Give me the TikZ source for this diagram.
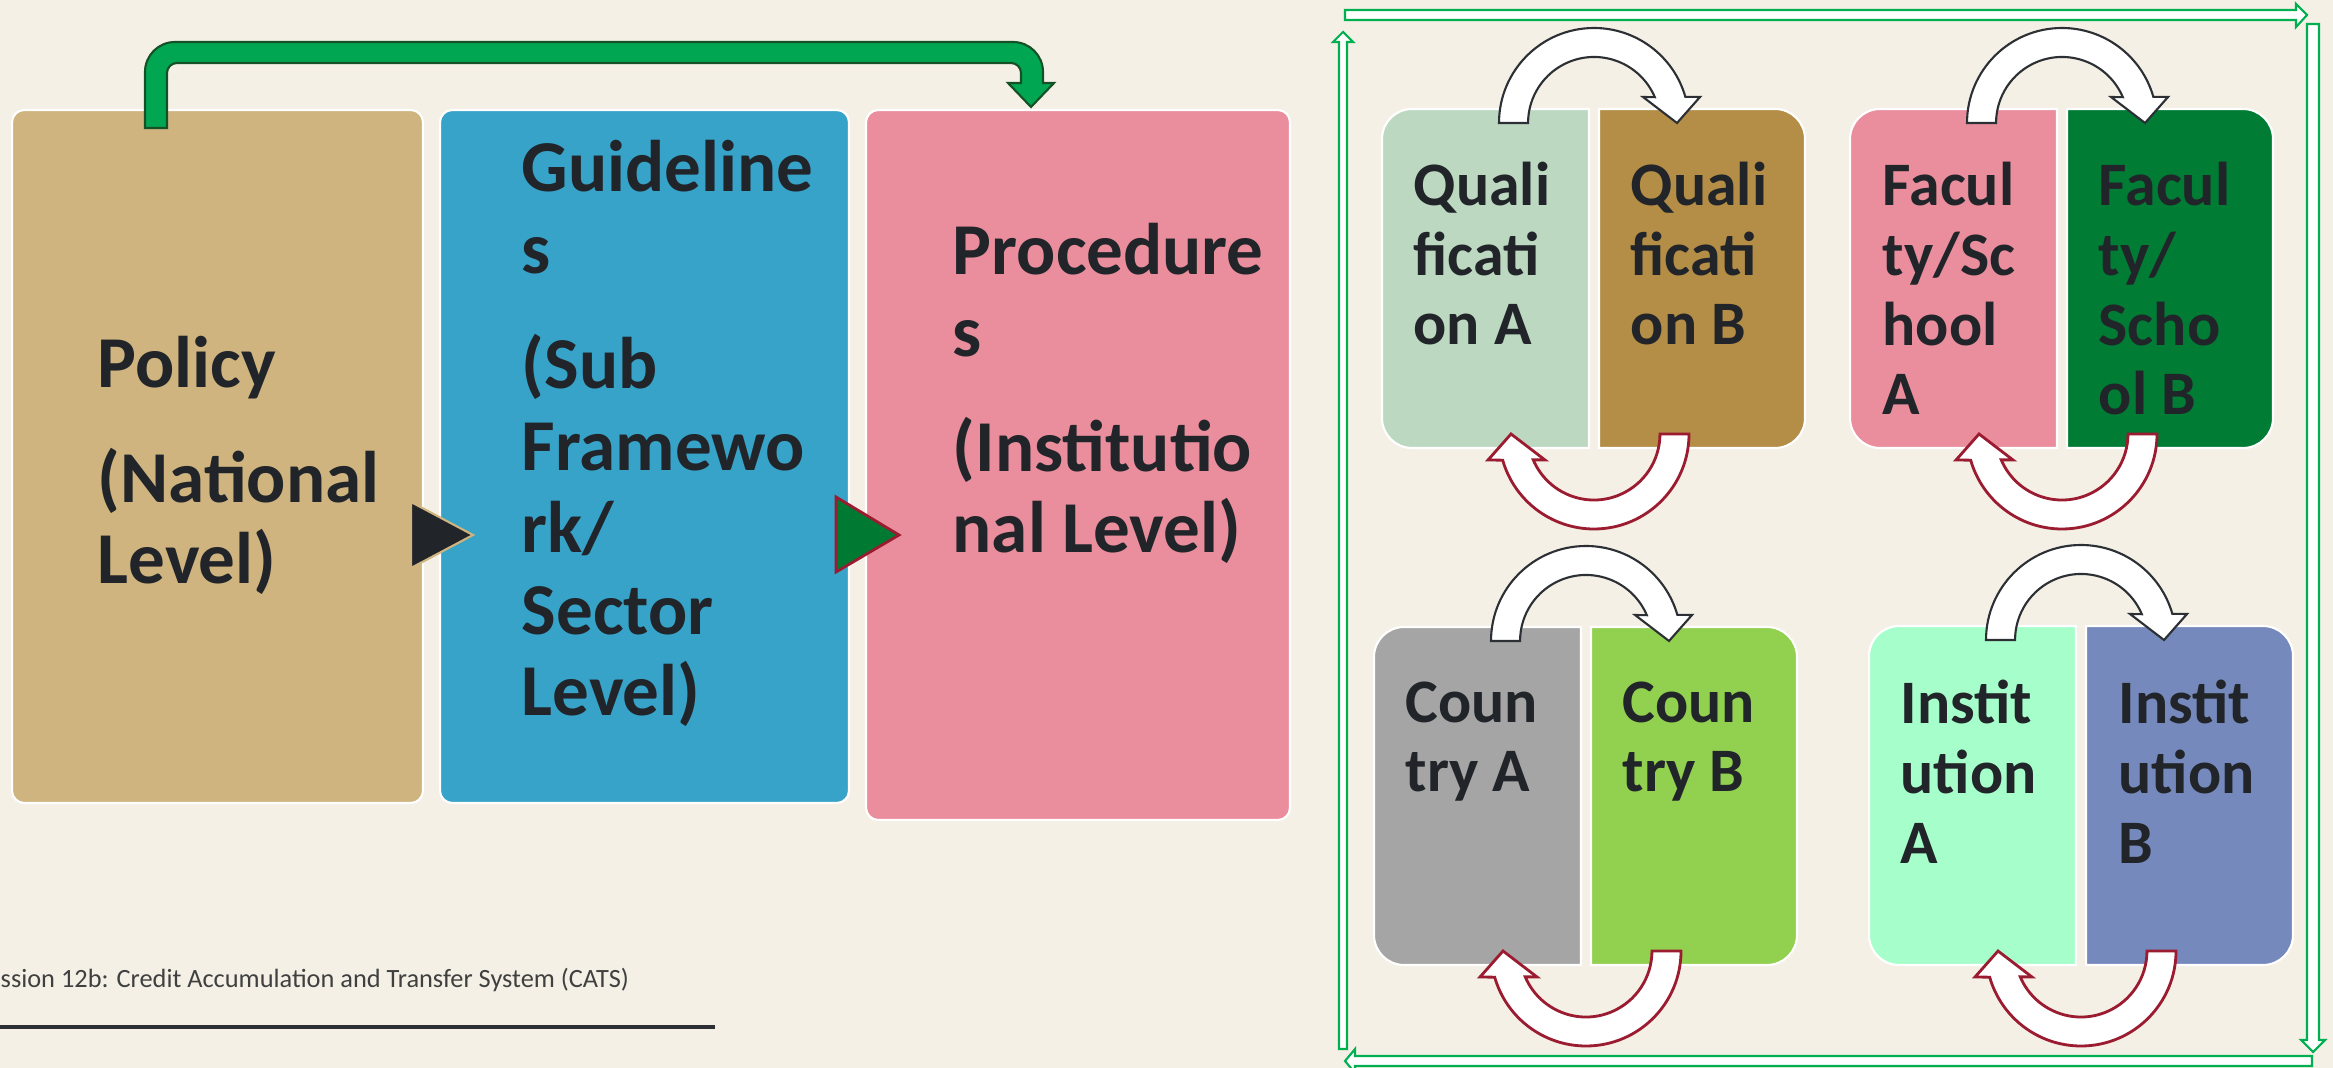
\documentclass[tikz,border=0pt]{standalone}
\usepackage{fontspec}
\setmainfont{Carlito}
\usetikzlibrary{positioning}
\definecolor{paper}{RGB}{244,240,230}
\definecolor{inkdark}{RGB}{33,37,41}
\definecolor{policytan}{RGB}{207,180,127}
\definecolor{guideblue}{RGB}{55,163,201}
\definecolor{procpink}{RGB}{234,142,157}
\definecolor{qualA}{RGB}{188,216,193}
\definecolor{qualB}{RGB}{180,141,70}
\definecolor{facB}{RGB}{0,124,52}
\definecolor{countryA}{RGB}{165,165,165}
\definecolor{countryB}{RGB}{146,208,80}
\definecolor{instA}{RGB}{166,255,203}
\definecolor{instB}{RGB}{117,137,188}
\definecolor{leafgreen}{RGB}{0,166,81}
\definecolor{darkleaf}{RGB}{22,80,38}
\definecolor{framegreen}{RGB}{0,176,80}
\definecolor{wine}{RGB}{155,27,48}
\definecolor{pinegreen}{RGB}{0,122,51}

\tikzset{
  bigtext/.style={anchor=base west, align=left, inner sep=0pt, text=inkdark,
    font=\fontsize{20.8}{23.3}\selectfont\bfseries},
  celltext/.style={anchor=base west, align=left, inner sep=0pt, text=inkdark,
    font=\fontsize{17.6}{19.9}\selectfont\bfseries},
  rim/.style={draw=white, line width=0.6pt},
  overarrow/.style={draw=inkdark!95, fill=white, line width=0.6pt},
  underarrow/.style={draw=wine, fill=white, line width=0.8pt},
  framearrow/.style={draw=framegreen, fill=white, line width=0.6pt}
}

% half rounded boxes: x1, y1, x2, y2, colour
\newcommand{\roundleft}[5]{%
  \filldraw[rim, fill=#5] (#3,#2) -- ({#1+30},#2) arc(270:180:30) -- (#1,{#4-30}) arc(180:90:30) -- (#3,#4) -- cycle;}
\newcommand{\roundright}[5]{%
  \filldraw[rim, fill=#5] (#1,#2) -- ({#3-30},#2) arc(270:360:30) -- (#3,{#4-30}) arc(0:90:30) -- (#1,#4) -- cycle;}

\begin{document}
\begin{tikzpicture}[x=0.1mm, y=-0.1mm]
\useasboundingbox (0,0) rectangle (2333,1068);
\fill[paper] (0,0) rectangle (2333,1068);

% Three levels
\filldraw[rim, fill=policytan, rounded corners=3.5pt] (12,110) rectangle (423,803);
\filldraw[rim, fill=guideblue, rounded corners=3.5pt] (440,110) rectangle (849,803);
\filldraw[rim, fill=procpink, rounded corners=3.5pt] (866,110) rectangle (1290,820);
% (base of a text = its last line)
\node[bigtext] (policytxt) at (97,584) {Policy\\[9.4pt](National\\Level)};
\node[bigtext] (guidetxt) at (521,716) {Guideline\\s\\[9.4pt](Sub\\Framewo\\rk/\\Sector\\Level)};
\node[bigtext] (proctxt) at (952,553) {Procedure\\s\\[9.4pt](Institutio\\nal Level)};

% Pointers between levels
\filldraw[fill=inkdark, draw=policytan, line width=0.6pt] (411,502) -- (473,535) -- (411,568) -- cycle;
\filldraw[fill=pinegreen, draw=wine, line width=0.8pt] (836,497) -- (899,535) -- (836,572) -- cycle;

% Jump from policy to procedures
\filldraw[fill=leafgreen, draw=darkleaf, line width=0.6pt]
  (145,128) -- (145,72) arc(180:270:30) -- (1013,42) arc(270:360:30) -- (1043,83)
  -- (1054,83) -- (1031,107) -- (1008,83) -- (1021,83) -- (1021,73) arc(0:-90:10)
  -- (177,63) arc(270:180:10) -- (167,128) -- cycle;

% Footer
\node[anchor=base west, inner sep=0pt, text=black!75, font=\fontsize{7.5}{9}\selectfont] (footer) at (0,987)
  {ssion 12b: Credit Accumulation and Transfer System (CATS)};
\draw[inkdark!95, line width=1.1pt] (0,1027) -- (715,1027);

% Frame arrows round the pairs
\filldraw[framearrow] (1345,10) -- (2296,10) -- (2296,4) -- (2307,15) -- (2296,27) -- (2296,20) -- (1345,20) -- cycle;
\filldraw[framearrow] (2307,24) -- (2307,1040) -- (2301,1040) -- (2313,1052) -- (2325,1040) -- (2319,1040) -- (2319,24) -- cycle;
\filldraw[framearrow] (2312,1056) -- (1355,1056) -- (1355,1049) -- (1345,1061) -- (1355,1073) -- (1355,1066) -- (2312,1066) -- cycle;
\filldraw[framearrow] (1339,1049) -- (1339,42) -- (1333,42) -- (1343,32) -- (1353,42) -- (1347,42) -- (1347,1049) -- cycle;

% Pairs
\roundleft{1382}{109}{1589}{448}{qualA}
\roundright{1599}{109}{1805}{448}{qualB}
\roundleft{1850}{109}{2057}{448}{procpink}
\roundright{2067}{109}{2273}{448}{facB}
\roundleft{1374}{627}{1581}{965}{countryA}
\roundright{1591}{627}{1797}{965}{countryB}
\roundleft{1869}{626}{2076}{965}{instA}
\roundright{2086}{626}{2293}{965}{instB}

\node[celltext] (qualAtxt) at (1413,345) {Quali\\ficati\\on A};
\node[celltext] (qualBtxt) at (1630,345) {Quali\\ficati\\on B};
\node[celltext] (facAtxt) at (1882,415) {Facul\\ty/Sc\\hool\\A};
\node[celltext] (facBtxt) at (2098,415) {Facul\\ty/\\Scho\\ol B};
\node[celltext] (countryAtxt) at (1405,792) {Coun\\try A};
\node[celltext] (countryBtxt) at (1622,792) {Coun\\try B};
\node[celltext] (instAtxt) at (1900,863) {Instit\\ution\\A};
\node[celltext] (instBtxt) at (2118,863) {Instit\\ution\\B};

% Swap arrows over and under each pair
\foreach \cx/\ty/\by in {1594/123/434, 2062/123/434, 1586/641/951, 2081/640/951}{
  \begin{scope}[shift={(\cx,\ty)}]
    \filldraw[overarrow] (-95,0) arc(180:344:95) -- (106,-26) -- (83,0) -- (49,-26) -- (60.8,-25.8) arc(337:180:66) -- cycle;
  \end{scope}
  \begin{scope}[shift={(\cx,\by)}, rotate=180]
    \filldraw[underarrow] (-95,0) arc(180:344:95) -- (106,-26) -- (83,0) -- (49,-26) -- (60.8,-25.8) arc(337:180:66) -- cycle;
  \end{scope}
}
\end{tikzpicture}
\end{document}
